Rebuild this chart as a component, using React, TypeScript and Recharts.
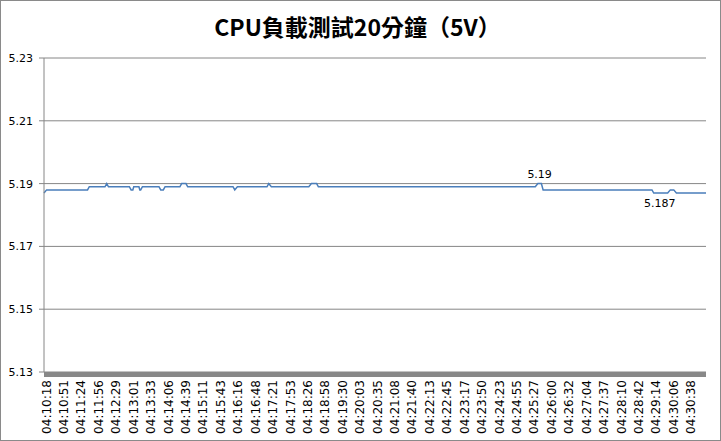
import React from "react";
import {
  LineChart,
  Line,
  XAxis,
  YAxis,
  CartesianGrid,
  ReferenceArea,
  LabelList,
} from "recharts";

// time labels on the category axis (one every 20 samples)
const timeLabels = [
  "04:10:18", "04:10:51", "04:11:24", "04:11:56", "04:12:29", "04:13:01",
  "04:13:33", "04:14:06", "04:14:39", "04:15:11", "04:15:43", "04:16:16",
  "04:16:48", "04:17:21", "04:17:53", "04:18:26", "04:18:58", "04:19:30",
  "04:20:03", "04:20:35", "04:21:08", "04:21:40", "04:22:13", "04:22:45",
  "04:23:17", "04:23:50", "04:24:23", "04:24:55", "04:25:27", "04:26:00",
  "04:26:32", "04:27:04", "04:27:37", "04:28:10", "04:28:42", "04:29:14",
  "04:30:06", "04:30:38",
];
const LABEL_STEP = 20;
const LABEL_OFFSET = 3;
const SAMPLE_COUNT = 760;

// sample index where the reading changes, and the reading there
const sampleIdx = [
  0, 3, 50, 52, 70, 72, 74, 98, 100, 102, 103, 109, 110, 111, 113, 132, 134,
  137, 139, 156, 158, 163, 165, 217, 219, 222, 256, 258, 261, 304, 307, 313,
  315, 564, 567, 569, 571, 573, 698, 700, 707, 716, 719, 723, 726, 760,
];
const voltage = [
  5.187, 5.188, 5.188, 5.189, 5.189, 5.19, 5.189, 5.189, 5.188, 5.188, 5.189,
  5.189, 5.188, 5.188, 5.189, 5.189, 5.188, 5.188, 5.189, 5.189, 5.19, 5.19,
  5.189, 5.189, 5.188, 5.189, 5.189, 5.19, 5.189, 5.189, 5.19, 5.19, 5.189,
  5.189, 5.19, 5.19, 5.19, 5.188, 5.188, 5.187, 5.187, 5.187, 5.188, 5.188,
  5.187, 5.187,
];
// data labels shown on the chart
const labelAbove = { 569: "5.19" };
const labelBelow = { 707: "5.187" };

const yTicks = [5.13, 5.15, 5.17, 5.19, 5.21, 5.23];
const xTicks = timeLabels.map((_, j) => LABEL_OFFSET + j * LABEL_STEP);

const data = sampleIdx.map((i, k) => ({
  i,
  v: voltage[k],
  above: labelAbove[i],
  below: labelBelow[i],
}));

const FONT = "'DejaVu Sans', sans-serif";

const TimeTick = (props: any) => {
  const { x, y, payload } = props;
  const label = timeLabels[(payload.value - LABEL_OFFSET) / LABEL_STEP];
  return (
    <text
      x={x}
      y={y}
      transform={`rotate(-90 ${x} ${y})`}
      textAnchor="end"
      dominantBaseline="central"
      fontSize={12}
      fontFamily={FONT}
      fill="#000"
    >
      {label}
    </text>
  );
};

const App = () => {
  return (
    <div
      style={{
        position: "fixed",
        left: 0,
        top: 0,
        width: 721,
        height: 441,
        boxSizing: "border-box",
        border: "1px solid #8a8a8a",
        background: "#fff",
      }}
    >
      <div
        style={{
          position: "absolute",
          left: -1,
          top: 8,
          width: 715,
          textAlign: "center",
          fontFamily: "'Noto Sans CJK TC', sans-serif",
          fontWeight: 700,
          fontSize: 23,
          color: "#000",
        }}
      >
        CPU負載測試20分鐘（5V）
      </div>
      <div style={{ position: "absolute", left: -1, top: -1 }}>
        <LineChart
          width={721}
          height={441}
          data={data}
          margin={{ top: 58, right: 15, left: 0, bottom: 0 }}
        >
          <CartesianGrid vertical={false} stroke="#868686" />
          <ReferenceArea
            y1={5.13}
            y2={5.1284}
            fill="#888888"
            fillOpacity={1}
            stroke="none"
            ifOverflow="visible"
          />
          <XAxis
            dataKey="i"
            type="number"
            domain={[0, SAMPLE_COUNT]}
            ticks={xTicks}
            interval={0}
            height={69}
            axisLine={false}
            tickLine={false}
            tickSize={0}
            tickMargin={8}
            tick={<TimeTick />}
          />
          <YAxis
            type="number"
            domain={[5.13, 5.23]}
            ticks={yTicks}
            interval={0}
            width={44}
            allowDataOverflow
            axisLine={{ stroke: "#868686" }}
            tickLine={{ stroke: "#868686" }}
            tickSize={5}
            tickMargin={6}
            tickFormatter={(v: number) => v.toFixed(2)}
            tick={{ fontSize: 11, fontFamily: FONT, fill: "#000" }}
          />
          <Line
            type="linear"
            dataKey="v"
            stroke="#4a7ebb"
            strokeWidth={1.5}
            dot={false}
            isAnimationActive={false}
          >
            <LabelList
              dataKey="above"
              position="top"
              offset={6}
              fontSize={11}
              fontFamily={FONT}
              fill="#000"
            />
            <LabelList
              dataKey="below"
              position="bottom"
              offset={6}
              fontSize={11}
              fontFamily={FONT}
              fill="#000"
            />
          </Line>
        </LineChart>
      </div>
    </div>
  );
};

export default App;
